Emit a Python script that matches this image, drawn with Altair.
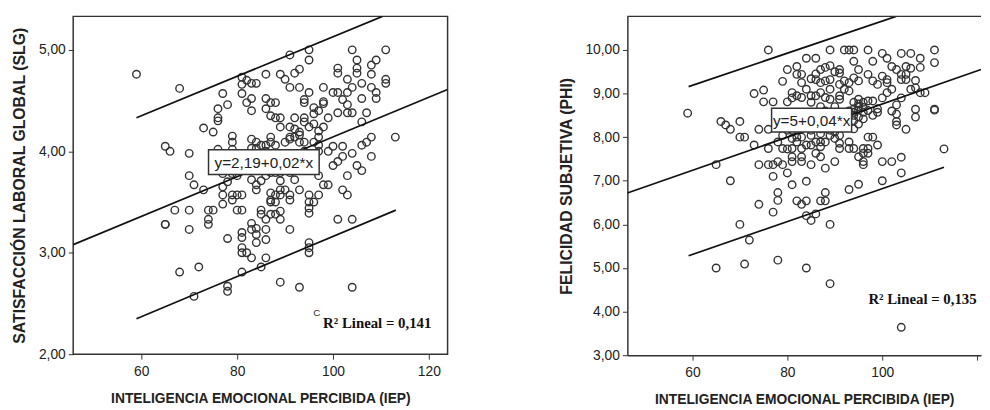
import altair as alt
import pandas as pd

# ---------------- data: left panel (SLG vs IEP) ----------------
slg_iep = [59,68,77,76,76,76,73,75,65,66,70,70,71,73,67,70,74,75,74,74,65,65,70,68,72,71,78,78,78,77,77,78,78,
           81,82,81,83,84,82,83,83,81,86,86,87,88,86,87,88,89,89,90,91,92,93,91,93,95,95,95,94,94,89,91,92,92,93,93,
           94,94,96,97,96,97,98,98,98,100,101,99,98,101,101,102,103,103,101,103,103,104,104,104,105,105,105,106,106,
           106,107,108,108,109,108,109,109,111,111,111,113,108,107,106,108,106,105,104,102,102,103,101,100,100,99,
           102,103,101,104,104,99,98,97,96,95,95,95,95,95,95,95,93,89,91,89,89,87,88,86,86,85,85,84,84,84,83,83,83,
           81,81,81,81,82,81,85,86,86,79,80,81,79,80,81,83,84,84,87,88,87,87,88,89,90,89,91,91,93,89,89,88,87,85,86,
           80,81,79,79,83,84,83,84,85,86,87,87,88,90,91,91,92,93,94,96,97,97,96,96,97,92,93,79,77,77,76,79,
           82,84,86,88,90,91,92,94,95,94,85,83,80,90,86,89,95,96,97]
slg_val = [4.76,4.62,4.57,4.42,4.33,4.30,4.23,4.19,4.05,4.00,3.98,3.76,3.67,3.62,3.42,3.42,3.42,3.42,3.33,3.28,3.28,
           3.28,3.23,2.81,2.86,2.57,3.14,2.67,2.62,3.57,3.48,3.70,4.46,
           4.73,4.70,4.66,4.67,4.67,4.48,4.52,4.40,4.57,4.76,4.52,4.48,4.48,4.42,4.35,4.33,4.33,4.76,4.71,4.95,4.77,
           4.81,4.63,4.63,5.00,4.90,4.58,4.51,4.48,4.24,4.24,4.22,4.33,4.19,4.16,
           4.33,4.29,4.43,4.40,4.37,4.20,4.49,4.47,4.63,4.58,4.58,4.33,4.24,4.82,4.77,4.51,4.71,4.58,4.38,4.46,4.38,
           4.38,4.63,5.00,4.90,4.82,4.77,4.67,4.52,
           4.29,4.38,4.85,4.76,4.90,4.63,4.58,4.52,5.00,4.71,4.67,4.14,4.14,4.09,4.06,3.95,3.81,3.86,3.98,4.05,3.95,
           3.76,3.90,4.05,3.86,4.00,
           3.62,3.57,3.33,3.33,2.66,3.67,3.67,3.57,3.50,3.57,3.50,3.44,3.39,3.10,3.05,3.00,2.66,2.71,3.23,3.41,3.33,
           3.38,3.38,3.33,3.23,3.42,3.38,3.24,3.18,3.10,3.29,3.23,2.95,
           3.20,3.15,3.05,3.00,3.00,2.81,2.86,2.95,3.13,3.57,3.57,3.57,3.52,3.42,3.42,3.72,3.67,3.62,3.59,3.57,3.52,
           3.50,3.50,3.62,3.62,3.57,3.57,3.52,3.62,3.79,3.71,3.79,3.79,3.86,3.88,
           3.93,3.89,4.15,4.09,4.12,4.09,4.03,4.03,4.06,4.06,4.14,4.09,4.06,4.09,4.12,4.14,4.14,4.09,4.09,4.09,4.06,
           4.00,3.89,3.83,3.76,3.72,3.83,3.78,3.78,3.65,4.02,4.02,
           3.95,3.90,3.76,3.92,3.98,3.79,3.95,3.86,3.95,4.00,3.71,3.86,3.76,3.86,4.00,3.93,4.24,4.27,4.14]

# regression line and prediction-interval lines
slg_fit_x = [45.8, 123.9]
slg_fit_y = [3.08, 4.61]
slg_up_x = [59.0, 110.3]
slg_up_y = [4.33, 5.33]
slg_lo_x = [59.0, 113.1]
slg_lo_y = [2.35, 3.42]

# ---------------- data: right panel (PHI vs IEP) ----------------
phi_iep = [59,76,65,65,66,67,68,68,70,70,71,70,72,71,73,73,74,74,74,75,75,76,76,76,77,77,77,78,78,78,77,78,79,79,
           80,80,80,80,81,82,82,81,81,82,83,84,84,84,84,84,85,86,86,87,88,88,89,89,89,89,92,93,94,93,95,97,100,101,
           100,100,102,104,104,104,104,106,108,111,111,108,109,107,108,111,111,113,105,107,107,103,103,103,103,101,
           101,101,102,103,104,104,105,105,105,106,98,98,99,97,95,95,94,94,93,92,91,91,91,89,88,87,86,85,83,83,92,93,
           91,91,89,88,87,86,85,83,82,95,95,96,97,98,99,99,94,94,95,94,95,96,96,97,98,94,93,91,91,91,90,90,89,88,87,
           87,87,86,85,84,83,83,82,82,81,81,81,81,83,83,85,86,87,88,90,93,94,95,96,96,96,96,97,97,98,99,97,85,85,86,
           87,88,89,81,80,79,78,79,
           94,95,95,96,94,93,84,86,87,88,90,89,85,87,88,90,100,102,104,106,107,102,100]
phi_val = [8.55,10.0,7.37,5.0,8.36,8.28,8.18,7.0,8.36,8.0,8.0,6.0,5.64,5.09,9.0,7.82,8.18,7.37,6.46,9.08,8.81,8.18,
           7.74,7.37,7.37,8.81,7.1,7.44,6.73,6.55,6.28,5.18,9.28,7.37,
           7.18,9.55,8.81,7.73,6.91,9.62,9.44,9.02,8.9,6.54,6.46,6.99,6.54,6.20,9.81,5.0,6.09,9.81,6.24,6.54,6.73,
           6.54,10.0,6.0,4.64,9.64,10.0,10.0,10.0,6.8,6.92,10.0,9.92,9.81,
           7.0,7.44,7.44,7.18,7.54,3.64,9.92,9.92,9.81,10.0,9.71,9.6,9.02,9.13,9.02,8.64,8.62,7.73,8.18,8.64,8.46,
           8.74,8.53,8.36,8.28,9.02,
           9.32,9.25,9.62,9.55,9.44,9.32,9.62,9.44,9.32,9.58,9.74,9.29,9.21,9.44,9.55,9.29,9.74,9.36,9.25,9.29,9.21,
           9.55,9.47,9.32,9.29,9.25,9.32,9.34,9.44,9.25,9.1,9.06,
           8.95,8.87,8.87,8.91,9.02,8.95,8.95,8.91,8.95,8.87,8.76,8.8,8.83,8.83,8.65,8.57,8.65,8.5,8.46,8.38,8.3,
           8.57,8.42,8.61,8.5,8.19,7.89,8.04,7.86,7.74,8.12,7.97,8.04,7.89,8.08,
           7.89,7.78,7.89,7.82,7.82,7.74,8.0,8.0,7.89,7.97,7.74,7.55,7.44,7.55,7.44,7.37,7.63,7.55,7.29,7.44,7.74,
           7.74,7.55,7.63,7.44,7.37,7.74,7.74,7.63,8.0,7.82,8.0,8.16,8.04,8.23,
           8.19,8.19,8.16,8.16,8.16,8.04,7.89,7.74,
           8.57,8.62,8.7,8.68,8.8,8.6,9.1,9.45,9.55,9.6,9.5,9.1,8.8,8.7,8.6,8.7,8.9,9.1,8.9,9.1,9.3,8.6,9.4]

phi_fit_x = [46.3, 120.8]
phi_fit_y = [6.72, 9.55]
phi_up_x = [59.2, 102.9]
phi_up_y = [9.16, 10.77]
phi_lo_x = [59.2, 113.0]
phi_lo_y = [5.28, 7.31]

# ---------------- texts ----------------
x_title = "INTELIGENCIA EMOCIONAL PERCIBIDA (IEP)"
y_titles = ["SATISFACCIÓN LABORAL GLOBAL (SLG)", "FELICIDAD SUBJETIVA (PHI)"]
eq_labels = ["y=2,19+0,02*x", "y=5+0,04*x"]
r2_labels = ["R² Lineal = 0,141", "R² Lineal = 0,135"]
x_ticks = [60, 80, 100, 120]
slg_ticks = [2, 3, 4, 5]
phi_ticks = [3, 4, 5, 6, 7, 8, 9, 10]

DARK = "#333333"
SANS = "Liberation Sans"
SERIF = "Liberation Serif"
comma_fmt = "replace(format(datum.value, '.2f'), '.', ',')"


def panel(px, py, xdom, ydom, yticks, ytitle, lines, eq, box, r2, r2pos, w, h,
          hide_last_x=False, framed=True, extra_c=False):
    pts = pd.DataFrame({"x": px, "y": py})
    x_axis = alt.Axis(values=x_ticks, title=x_title, grid=False, domain=not framed,
                      domainColor=DARK, domainWidth=1.5,
                      tickSize=5, tickColor=DARK, labelPadding=6, labelFont=SANS,
                      labelFontSize=14, labelColor="#222222", titleFont=SANS,
                      titleFontSize=14, titleFontWeight="bold", titleColor="#222222",
                      titlePadding=13,
                      labelExpr=("datum.value == 120 ? '' : datum.label") if hide_last_x else "datum.label")
    y_axis = alt.Axis(values=yticks, title=ytitle, grid=False, domain=not framed,
                      domainColor=DARK, domainWidth=1.5,
                      tickSize=5, tickColor=DARK, labelPadding=3, labelFont=SANS,
                      labelFontSize=14, labelColor="#222222", labelExpr=comma_fmt,
                      titleFont=SANS, titleFontSize=16, titleFontWeight="bold",
                      titleColor="#222222", titlePadding=11)
    xs = alt.Scale(domain=xdom, nice=False, zero=False)
    ys = alt.Scale(domain=ydom, nice=False, zero=False)

    base = alt.Chart(pts).mark_point(shape="circle", filled=False, size=58, strokeWidth=1.4,
                                     color=DARK, opacity=1).encode(
        x=alt.X("x:Q", scale=xs, axis=x_axis),
        y=alt.Y("y:Q", scale=ys, axis=y_axis),
    )
    rows = []
    for name, (lx, ly) in lines.items():
        for a, b in zip(lx, ly):
            rows.append({"x": a, "y": b, "line": name})
    ldf = pd.DataFrame(rows)
    line = alt.Chart(ldf).mark_line(color="#111111", strokeWidth=1.7, clip=True).encode(
        x=alt.X("x:Q", scale=xs), y=alt.Y("y:Q", scale=ys), detail="line:N")

    lab = pd.DataFrame({"t": [eq]})
    rect = alt.Chart(lab).mark_rect(fill="white", stroke=DARK, strokeWidth=1.5).encode(
        x=alt.value(box[0]), x2=alt.value(box[1]), y=alt.value(box[2]), y2=alt.value(box[3]))
    eqt = alt.Chart(lab).mark_text(font=SANS, fontSize=15.5, color="#222222",
                                   align="center", baseline="middle").encode(
        x=alt.value((box[0] + box[1]) / 2), y=alt.value((box[2] + box[3]) / 2 + 1), text="t:N")
    r2t = alt.Chart(pd.DataFrame({"t": [r2]})).mark_text(
        font=SERIF, fontSize=15, fontWeight="bold", color="#111111",
        align="left", baseline="middle").encode(
        x=alt.value(r2pos[0]), y=alt.value(r2pos[1]), text="t:N")
    layers = [base, line, rect, eqt, r2t]
    if extra_c:
        layers.append(alt.Chart(pd.DataFrame({"t": ["C"]})).mark_text(
            font=SANS, fontSize=10, color="#333333", align="left", baseline="middle").encode(
            x=alt.value(r2pos[0] - 10), y=alt.value(r2pos[1] - 10), text="t:N"))
    if not framed:
        layers.append(alt.Chart(lab).mark_rule(color=DARK, strokeWidth=1.5).encode(
            x=alt.value(0), x2=alt.value(w), y=alt.value(0)))
    ch = alt.layer(*layers).properties(width=w, height=h)
    if not framed:
        ch = ch.properties(view=alt.ViewBackground(strokeOpacity=0))
    return ch


left = panel(slg_iep, slg_val, [45.8, 123.9], [2.0, 5.33], slg_ticks, y_titles[0],
             {"fit": (slg_fit_x, slg_fit_y), "up": (slg_up_x, slg_up_y), "lo": (slg_lo_x, slg_lo_y)},
             eq_labels[0], (137, 249, 135, 160), r2_labels[0], (253, 310), 379, 342,
             extra_c=True)
right = panel(phi_iep, phi_val, [46.3, 120.8], [3.0, 10.77], phi_ticks, y_titles[1],
              {"fit": (phi_fit_x, phi_fit_y), "up": (phi_up_x, phi_up_y), "lo": (phi_lo_x, phi_lo_y)},
              eq_labels[1], (146, 227, 93, 117), r2_labels[1], (244, 286), 358, 343,
              hide_last_x=True, framed=False)

chart = alt.hconcat(left, right, spacing=110).properties(
    padding={"left": 3, "top": 5, "right": 0, "bottom": 1}
).configure_view(stroke=DARK, strokeWidth=1.5)

chart.save("out.html", embed_options={"renderer": "svg", "actions": False})
